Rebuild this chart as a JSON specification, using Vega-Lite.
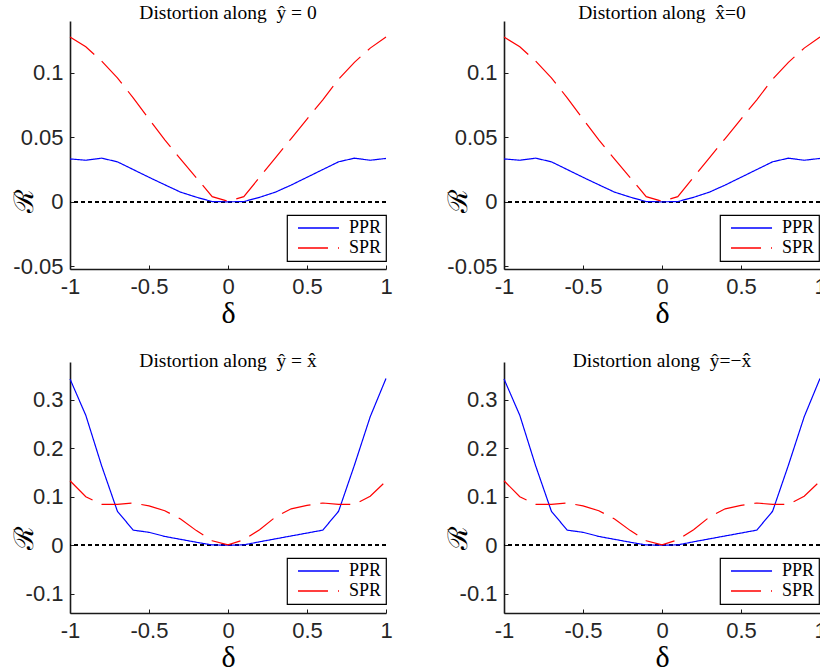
{
  "$schema": "https://vega.github.io/schema/vega-lite/v6.json",
  "autosize": {"type": "none"},
  "padding": {"left": 70, "top": 21, "right": 750, "bottom": 651},
  "background": "white",
  "datasets": {
    "top": [
      {"delta": -1, "R": 0.0332, "series": "PPR"},
      {"delta": -0.9, "R": 0.0322, "series": "PPR"},
      {"delta": -0.8, "R": 0.0338, "series": "PPR"},
      {"delta": -0.7, "R": 0.031, "series": "PPR"},
      {"delta": -0.6, "R": 0.025, "series": "PPR"},
      {"delta": -0.5, "R": 0.019, "series": "PPR"},
      {"delta": -0.4, "R": 0.0132, "series": "PPR"},
      {"delta": -0.3, "R": 0.0075, "series": "PPR"},
      {"delta": -0.2, "R": 0.0036, "series": "PPR"},
      {"delta": -0.1, "R": 0.0002, "series": "PPR"},
      {"delta": 0, "R": 0, "series": "PPR"},
      {"delta": 0.1, "R": 0.0002, "series": "PPR"},
      {"delta": 0.2, "R": 0.0035, "series": "PPR"},
      {"delta": 0.3, "R": 0.0075, "series": "PPR"},
      {"delta": 0.4, "R": 0.013, "series": "PPR"},
      {"delta": 0.5, "R": 0.019, "series": "PPR"},
      {"delta": 0.6, "R": 0.025, "series": "PPR"},
      {"delta": 0.7, "R": 0.031, "series": "PPR"},
      {"delta": 0.8, "R": 0.0338, "series": "PPR"},
      {"delta": 0.9, "R": 0.0322, "series": "PPR"},
      {"delta": 1, "R": 0.0336, "series": "PPR"},
      {"delta": -1, "R": 0.1276, "series": "SPR"},
      {"delta": -0.9, "R": 0.12, "series": "SPR"},
      {"delta": -0.8, "R": 0.109, "series": "SPR"},
      {"delta": -0.7, "R": 0.096, "series": "SPR"},
      {"delta": -0.6, "R": 0.0805, "series": "SPR"},
      {"delta": -0.5, "R": 0.064, "series": "SPR"},
      {"delta": -0.4, "R": 0.048, "series": "SPR"},
      {"delta": -0.3, "R": 0.033, "series": "SPR"},
      {"delta": -0.2, "R": 0.0186, "series": "SPR"},
      {"delta": -0.1, "R": 0.004, "series": "SPR"},
      {"delta": 0, "R": 0.0005, "series": "SPR"},
      {"delta": 0.1, "R": 0.004, "series": "SPR"},
      {"delta": 0.2, "R": 0.019, "series": "SPR"},
      {"delta": 0.3, "R": 0.034, "series": "SPR"},
      {"delta": 0.4, "R": 0.049, "series": "SPR"},
      {"delta": 0.5, "R": 0.064, "series": "SPR"},
      {"delta": 0.6, "R": 0.079, "series": "SPR"},
      {"delta": 0.7, "R": 0.095, "series": "SPR"},
      {"delta": 0.8, "R": 0.108, "series": "SPR"},
      {"delta": 0.9, "R": 0.119, "series": "SPR"},
      {"delta": 1, "R": 0.1276, "series": "SPR"}
    ],
    "bottom": [
      {"delta": -1, "R": 0.343, "series": "PPR"},
      {"delta": -0.9, "R": 0.268, "series": "PPR"},
      {"delta": -0.8, "R": 0.164, "series": "PPR"},
      {"delta": -0.7, "R": 0.07, "series": "PPR"},
      {"delta": -0.6, "R": 0.031, "series": "PPR"},
      {"delta": -0.5, "R": 0.0265, "series": "PPR"},
      {"delta": -0.4, "R": 0.018, "series": "PPR"},
      {"delta": -0.3, "R": 0.012, "series": "PPR"},
      {"delta": -0.2, "R": 0.006, "series": "PPR"},
      {"delta": -0.1, "R": 0.0005, "series": "PPR"},
      {"delta": 0, "R": 0, "series": "PPR"},
      {"delta": 0.1, "R": 0.0005, "series": "PPR"},
      {"delta": 0.2, "R": 0.007, "series": "PPR"},
      {"delta": 0.3, "R": 0.013, "series": "PPR"},
      {"delta": 0.4, "R": 0.019, "series": "PPR"},
      {"delta": 0.5, "R": 0.025, "series": "PPR"},
      {"delta": 0.6, "R": 0.031, "series": "PPR"},
      {"delta": 0.7, "R": 0.07, "series": "PPR"},
      {"delta": 0.8, "R": 0.165, "series": "PPR"},
      {"delta": 0.9, "R": 0.265, "series": "PPR"},
      {"delta": 1, "R": 0.344, "series": "PPR"},
      {"delta": -1, "R": 0.133, "series": "SPR"},
      {"delta": -0.9, "R": 0.1, "series": "SPR"},
      {"delta": -0.8, "R": 0.084, "series": "SPR"},
      {"delta": -0.7, "R": 0.084, "series": "SPR"},
      {"delta": -0.6, "R": 0.087, "series": "SPR"},
      {"delta": -0.5, "R": 0.081, "series": "SPR"},
      {"delta": -0.4, "R": 0.071, "series": "SPR"},
      {"delta": -0.3, "R": 0.054, "series": "SPR"},
      {"delta": -0.2, "R": 0.03, "series": "SPR"},
      {"delta": -0.1, "R": 0.009, "series": "SPR"},
      {"delta": 0, "R": 0.0005, "series": "SPR"},
      {"delta": 0.1, "R": 0.011, "series": "SPR"},
      {"delta": 0.2, "R": 0.032, "series": "SPR"},
      {"delta": 0.3, "R": 0.058, "series": "SPR"},
      {"delta": 0.4, "R": 0.075, "series": "SPR"},
      {"delta": 0.5, "R": 0.082, "series": "SPR"},
      {"delta": 0.6, "R": 0.087, "series": "SPR"},
      {"delta": 0.7, "R": 0.084, "series": "SPR"},
      {"delta": 0.8, "R": 0.084, "series": "SPR"},
      {"delta": 0.9, "R": 0.101, "series": "SPR"},
      {"delta": 1, "R": 0.132, "series": "SPR"}
    ]
  },
  "columns": 2,
  "bounds": "flush",
  "align": "each",
  "spacing": {"row": 93, "column": 118},
  "resolve": {
    "scale": {"color": "independent", "strokeDash": "independent"},
    "legend": {"color": "independent", "strokeDash": "independent"}
  },
  "concat": [
    {
      "width": 316, "height": 248,
      "title": {"text": "Distortion along\u00a0\u00a0ŷ\u00a0=\u00a00", "offset": -2},
      "data": {"name": "top"},
      "layer": [
        {"mark": {"type": "rule", "color": "black", "strokeDash": [4, 3], "strokeWidth": 1}, "encoding": {"y": {"datum": 0, "type": "quantitative"}}},
        {"mark": {"type": "line", "strokeWidth": 1.2},
         "encoding": {
           "x": {"field": "delta", "type": "quantitative", "scale": {"domain": [-1, 1], "nice": false}, "axis": {"values": [-1, -0.5, 0, 0.5, 1], "title": "δ"}},
           "y": {"field": "R", "type": "quantitative", "scale": {"domain": [-0.052, 0.14], "nice": false, "zero": false}, "axis": {"values": [-0.05, 0, 0.05, 0.1], "title": "ℛ", "titleY": 179}},
           "color": {"field": "series", "type": "nominal", "scale": {"domain": ["PPR", "SPR"], "range": ["#0000ff", "#ff0000"]}, "legend": {"legendX": 217, "legendY": 194}},
           "strokeDash": {"field": "series", "type": "nominal", "scale": {"domain": ["PPR", "SPR"], "range": [[1, 0], [30, 10]]}, "legend": {"legendX": 217, "legendY": 194}}
         }}
      ]
    },
    {
      "width": 316, "height": 248,
      "title": {"text": "Distortion along\u00a0\u00a0x̂=0", "offset": -2},
      "data": {"name": "top"},
      "layer": [
        {"mark": {"type": "rule", "color": "black", "strokeDash": [4, 3], "strokeWidth": 1}, "encoding": {"y": {"datum": 0, "type": "quantitative"}}},
        {"mark": {"type": "line", "strokeWidth": 1.2},
         "encoding": {
           "x": {"field": "delta", "type": "quantitative", "scale": {"domain": [-1, 1], "nice": false}, "axis": {"values": [-1, -0.5, 0, 0.5, 1], "title": "δ"}},
           "y": {"field": "R", "type": "quantitative", "scale": {"domain": [-0.052, 0.14], "nice": false, "zero": false}, "axis": {"values": [-0.05, 0, 0.05, 0.1], "title": "ℛ", "titleY": 179}},
           "color": {"field": "series", "type": "nominal", "scale": {"domain": ["PPR", "SPR"], "range": ["#0000ff", "#ff0000"]}, "legend": {"legendX": 216, "legendY": 194}},
           "strokeDash": {"field": "series", "type": "nominal", "scale": {"domain": ["PPR", "SPR"], "range": [[1, 0], [30, 10]]}, "legend": {"legendX": 216, "legendY": 194}}
         }}
      ]
    },
    {
      "width": 316, "height": 251,
      "title": {"text": "Distortion along\u00a0\u00a0ŷ\u00a0=\u00a0x̂", "offset": -9},
      "data": {"name": "bottom"},
      "layer": [
        {"mark": {"type": "rule", "color": "black", "strokeDash": [4, 3], "strokeWidth": 1}, "encoding": {"y": {"datum": 0, "type": "quantitative"}}},
        {"mark": {"type": "line", "strokeWidth": 1.2},
         "encoding": {
           "x": {"field": "delta", "type": "quantitative", "scale": {"domain": [-1, 1], "nice": false}, "axis": {"values": [-1, -0.5, 0, 0.5, 1], "title": "δ"}},
           "y": {"field": "R", "type": "quantitative", "scale": {"domain": [-0.14, 0.378], "nice": false, "zero": false}, "axis": {"values": [-0.1, 0, 0.1, 0.2, 0.3], "title": "ℛ", "titleY": 175}},
           "color": {"field": "series", "type": "nominal", "scale": {"domain": ["PPR", "SPR"], "range": ["#0000ff", "#ff0000"]}, "legend": {"legendX": 217, "legendY": 196}},
           "strokeDash": {"field": "series", "type": "nominal", "scale": {"domain": ["PPR", "SPR"], "range": [[1, 0], [30, 10]]}, "legend": {"legendX": 217, "legendY": 196}}
         }}
      ]
    },
    {
      "width": 316, "height": 251,
      "title": {"text": "Distortion along\u00a0\u00a0ŷ=−x̂", "offset": -9},
      "data": {"name": "bottom"},
      "layer": [
        {"mark": {"type": "rule", "color": "black", "strokeDash": [4, 3], "strokeWidth": 1}, "encoding": {"y": {"datum": 0, "type": "quantitative"}}},
        {"mark": {"type": "line", "strokeWidth": 1.2},
         "encoding": {
           "x": {"field": "delta", "type": "quantitative", "scale": {"domain": [-1, 1], "nice": false}, "axis": {"values": [-1, -0.5, 0, 0.5, 1], "title": "δ"}},
           "y": {"field": "R", "type": "quantitative", "scale": {"domain": [-0.14, 0.378], "nice": false, "zero": false}, "axis": {"values": [-0.1, 0, 0.1, 0.2, 0.3], "title": "ℛ", "titleY": 175}},
           "color": {"field": "series", "type": "nominal", "scale": {"domain": ["PPR", "SPR"], "range": ["#0000ff", "#ff0000"]}, "legend": {"legendX": 216, "legendY": 196}},
           "strokeDash": {"field": "series", "type": "nominal", "scale": {"domain": ["PPR", "SPR"], "range": [[1, 0], [30, 10]]}, "legend": {"legendX": 216, "legendY": 196}}
         }}
      ]
    }
  ],
  "config": {
    "view": {"stroke": null},
    "axis": {
      "grid": false,
      "domainColor": "#1a1a1a",
      "domainWidth": 1.6,
      "tickColor": "#1a1a1a",
      "tickWidth": 1,
      "tickSize": -4,
      "labelFont": "Liberation Sans",
      "labelFontSize": 22,
      "labelColor": "#262626",
      "labelFlush": false,
      "labelOverlap": false,
      "labelPadding": 11,
      "labelExpr": "datum.value < 0 ? '-' + format(-datum.value, '~g') : format(datum.value, '~g')",
      "titleColor": "black",
      "titleFontWeight": "normal"
    },
    "axisX": {
      "titleFont": "Liberation Serif",
      "titleFontSize": 30,
      "titlePadding": 1
    },
    "axisY": {
      "titleFont": "DejaVu Serif",
      "titleFontSize": 27,
      "titleAngle": -90,
      "titleX": -46,
      "titleAlign": "center",
      "titleBaseline": "middle"
    },
    "legend": {
      "orient": "none",
      "title": null,
      "strokeColor": "black",
      "strokeWidth": 1.2,
      "fillColor": "white",
      "padding": 4,
      "clipHeight": 18,
      "rowPadding": 2,
      "symbolType": "M-0.79,0H0.65",
      "symbolSize": 3249,
      "symbolStrokeWidth": 1.3,
      "labelOffset": -1,
      "labelFont": "Liberation Serif",
      "labelFontSize": 18,
      "labelColor": "black"
    },
    "title": {
      "font": "Liberation Serif",
      "fontSize": 19.5,
      "fontWeight": "normal",
      "color": "black",
      "anchor": "middle",
      "baseline": "alphabetic"
    }
  }
}
